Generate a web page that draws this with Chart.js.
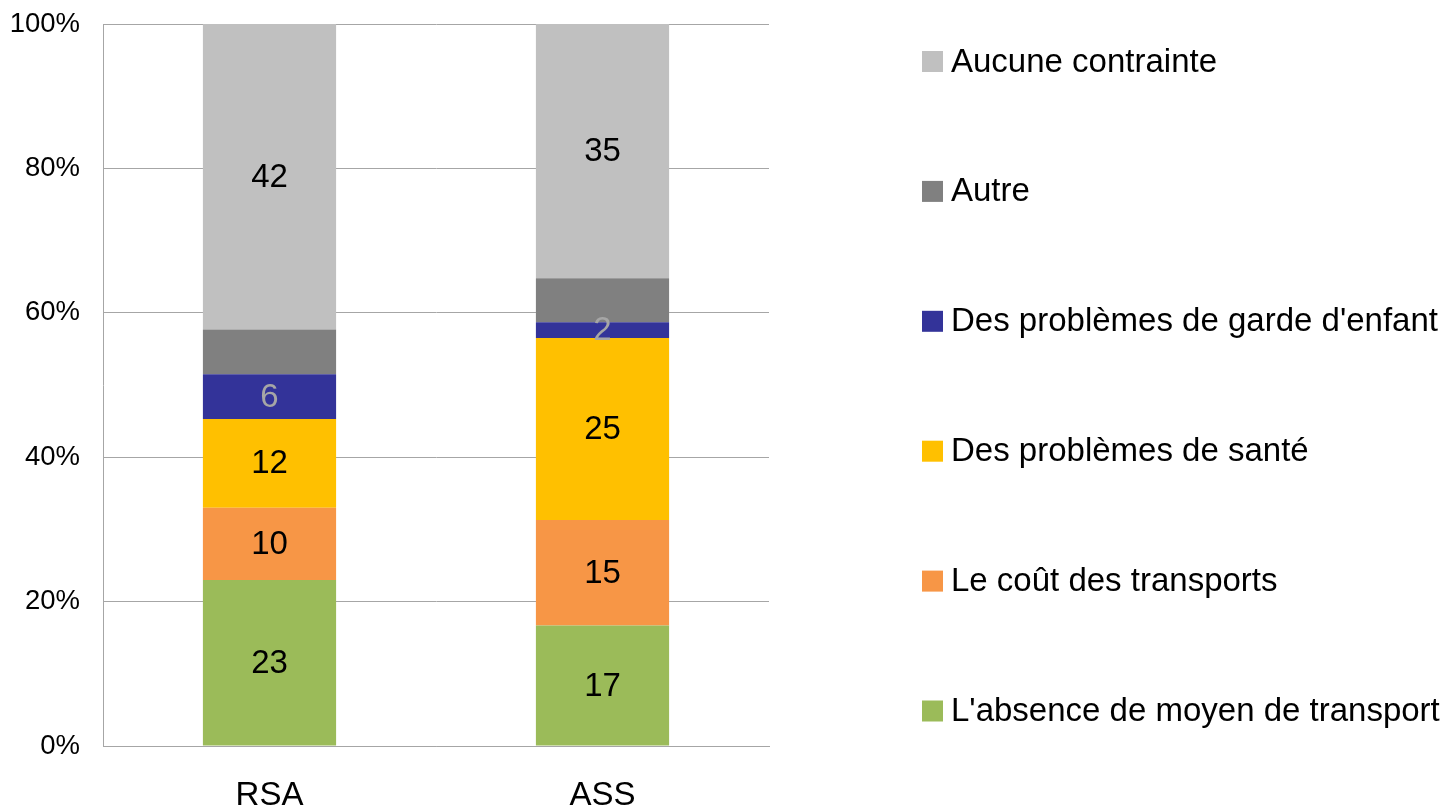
<!DOCTYPE html>
<html>
<head>
<meta charset="utf-8">
<script src="https://cdn.jsdelivr.net/npm/chart.js@4"></script>
<style>
html, body { margin: 0; padding: 0; background: #fff; }
#wrap { width: 1443px; height: 805px; position: relative; }
</style>
</head>
<body>
<div id="wrap"><canvas id="chart"></canvas></div>
<script>
// data (share in %)
const categories = ["RSA", "ASS"];
const absenceTransport = [23.0, 16.7];
const coutTransports = [10.0, 14.6];
const problemesSante = [12.3, 25.2];
const gardeEnfant = [6.2, 2.2];
const autre = [6.2, 6.1];
const aucuneContrainte = [42.3, 35.2];
const yTicks = [0, 20, 40, 60, 80, 100];

const FONT = "'Liberation Sans', Arial, sans-serif";

const datasets = [
  { label: "L'absence de moyen de transport", data: absenceTransport, backgroundColor: "#9BBB59", showLabel: true, labelColor: "#000" },
  { label: "Le coût des transports", data: coutTransports, backgroundColor: "#F79646", showLabel: true, labelColor: "#000" },
  { label: "Des problèmes de santé", data: problemesSante, backgroundColor: "#FFC000", showLabel: true, labelColor: "#000" },
  { label: "Des problèmes de garde d'enfant", data: gardeEnfant, backgroundColor: "#333399", showLabel: true, labelColor: "#a6a6a6" },
  { label: "Autre", data: autre, backgroundColor: "#808080", showLabel: false },
  { label: "Aucune contrainte", data: aucuneContrainte, backgroundColor: "#C0C0C0", showLabel: true, labelColor: "#000" }
];

// numbers in the middle of each segment
const segmentLabels = {
  id: "segmentLabels",
  afterDatasetsDraw(chart) {
    const ctx = chart.ctx;
    ctx.save();
    ctx.font = "33px " + FONT;
    ctx.textAlign = "center";
    ctx.textBaseline = "middle";
    chart.data.datasets.forEach((ds, i) => {
      if (!ds.showLabel) return;
      chart.getDatasetMeta(i).data.forEach((bar, j) => {
        const p = bar.getProps(["x", "y", "base"], true);
        ctx.fillStyle = ds.labelColor;
        ctx.fillText(Math.round(ds.data[j]), p.x, (p.y + p.base) / 2 + 1);
      });
    });
    ctx.restore();
  }
};

// legend on the right, spread over the full height
const sideLegend = {
  id: "sideLegend",
  afterDraw(chart) {
    const ctx = chart.ctx;
    const boxX = 922, box = 21, textX = 951;
    const firstY = 61.5, step = 129.9;
    ctx.save();
    ctx.font = "33px " + FONT;
    ctx.textAlign = "left";
    ctx.textBaseline = "middle";
    const list = chart.data.datasets.slice().reverse();
    list.forEach((ds, k) => {
      const cy = firstY + k * step;
      ctx.fillStyle = ds.backgroundColor;
      ctx.fillRect(boxX, cy - box / 2, box, box);
      ctx.fillStyle = "#000";
      ctx.fillText(ds.label, textX, cy + 1);
    });
    ctx.restore();
  }
};

new Chart(document.getElementById("chart"), {
  type: "bar",
  data: { labels: categories, datasets: datasets },
  options: {
    responsive: true,
    maintainAspectRatio: false,
    animation: false,
    layout: { padding: { top: 24, right: 674, left: 0, bottom: 0 } },
    datasets: { bar: { barPercentage: 0.4, categoryPercentage: 1 } },
    plugins: {
      legend: { display: false },
      tooltip: { enabled: false }
    },
    scales: {
      x: {
        stacked: true,
        grid: { display: false },
        border: { display: true, color: "#a6a6a6" },
        ticks: { color: "#000", font: { size: 33, family: FONT }, padding: 22 },
        afterFit(scale) { scale.height = 59; }
      },
      y: {
        stacked: true,
        min: 0,
        max: 100,
        afterBuildTicks(scale) { scale.ticks = yTicks.map(v => ({ value: v })); },
        ticks: {
          color: "#000",
          font: { size: 27.5, family: FONT },
          padding: 23,
          callback: v => v + "%"
        },
        grid: { color: "#a6a6a6", drawTicks: false },
        border: { display: true, color: "#a6a6a6" },
        afterFit(scale) {
          scale.width = 103;
          scale.paddingTop = 0;
          scale.paddingBottom = 0;
        }
      }
    }
  },
  plugins: [segmentLabels, sideLegend]
});
</script>
</body>
</html>
